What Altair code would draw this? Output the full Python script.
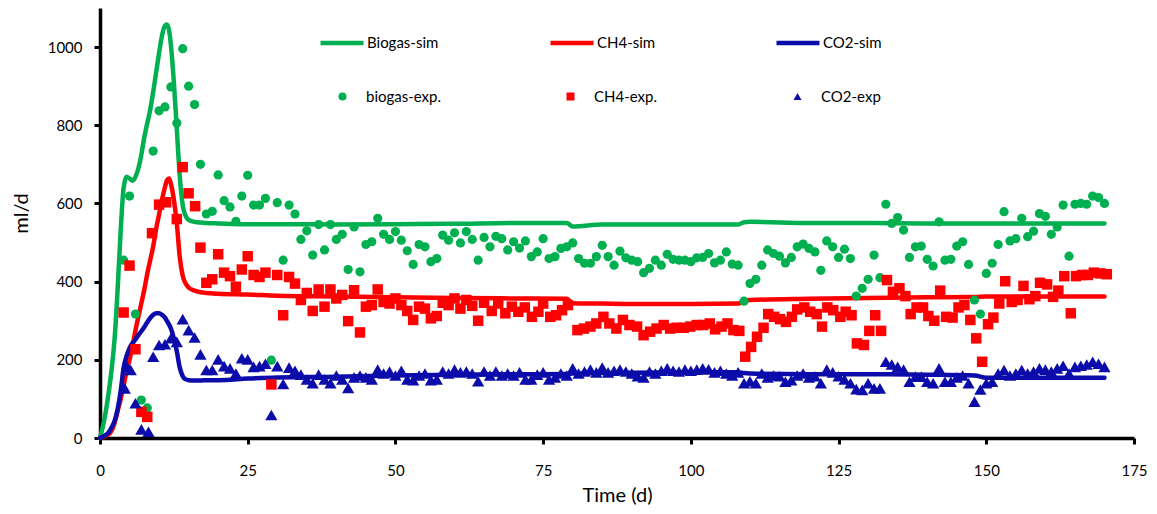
import altair as alt
import pandas as pd

# ---------------- data ----------------
sim_days = [0, 0.5, 1, 1.5, 2, 2.5, 3, 3.5, 4, 4.5,
            5, 5.5, 6, 6.5, 7, 7.5, 8, 8.5, 9, 9.5,
            10, 10.5, 11, 11.3, 11.7, 12, 12.5, 13, 13.5, 14,
            14.5, 15, 16, 17, 18, 20, 25, 30, 40, 50,
            60, 70, 79, 80, 85, 90, 100, 108, 109, 110,
            120, 130, 140, 148, 150, 160, 170]
biogas_sim = [0, 30, 70, 120, 180, 260, 385, 530, 640, 668,
              664, 658, 668, 690, 725, 770, 805, 840, 885, 935,
              985, 1030, 1055, 1058, 1042, 1005, 910, 790, 670, 595,
              568, 558, 553, 551, 550, 549, 547, 547, 546, 547,
              548, 550, 550, 541, 546, 546, 546, 546, 552, 553,
              550, 550, 549, 549, 549, 549, 549]
ch4_sim = [0, 2, 5, 10, 20, 40, 70, 100, 135, 170,
           200, 235, 275, 310, 345, 380, 420, 455, 490, 535,
           572, 610, 642, 658, 664, 650, 610, 549, 463, 415,
           395, 385, 377, 373, 371, 369, 367, 364, 362, 360,
           358, 357, 356, 345, 344, 343, 343, 344, 350, 353,
           356, 358, 360, 361, 362, 362, 362]
co2_sim = [0, 3, 8, 15, 28, 45, 75, 120, 180, 210,
           230, 243, 252, 263, 273, 284, 296, 307, 315, 319,
           319, 315, 308, 300, 290, 280, 255, 222, 180, 158,
           150, 148, 147, 147, 148, 148, 152, 155, 157, 160,
           162, 163, 164, 165, 166, 167, 168, 168, 166, 165,
           163, 163, 162, 160, 154, 154, 154]

biogas_exp_days = list(range(4, 171))
biogas_exp = [455, 619, 317, 97, 77, 734, 837, 847, 898, 806,
              996, 900, 853, 700, 573, 580, 673, 607, 591, 554,
              619, 672, 596, 596, 613, 199, 602, 455, 596, 573,
              508, 530, 468, 546, 481, 546, 508, 521, 431, 540,
              425, 495, 502, 562, 521, 508, 528, 506, 479, 444,
              495, 489, 451, 459, 519, 506, 525, 499, 528, 508,
              455, 513, 489, 516, 510, 481, 502, 486, 504, 464,
              476, 510, 459, 464, 485, 489, 499, 459, 447, 447,
              464, 493, 464, 442, 478, 461, 455, 451, 423, 434,
              455, 442, 470, 457, 455, 455, 451, 461, 462, 472,
              448, 455, 476, 445, 442, 350, 395, 406, 442, 481,
              472, 465, 448, 462, 489, 496, 485, 476, 429, 504,
              489, 462, 483, 459, 363, 383, 406, 468, 410, 598,
              549, 564, 532, 462, 489, 491, 457, 440, 553, 455,
              457, 491, 502, 444, 353, 317, 421, 447, 495, 579,
              504, 510, 562, 515, 529, 574, 567, 521, 540, 596,
              465, 598, 600, 598, 619, 615, 600]

ch4_exp_days = ([4, 5, 6, 7, 8, 8.8, 10, 11.2, 13, 14, 15, 16.1]
                + list(range(17, 66))
                + [66.3, 67.4, 68.6, 69.7, 70.8, 71.9, 73.1, 74.2, 75.0, 76.2,
                   77.2, 78.2, 79.2]
                + [80.8, 81.9, 83.0, 84.0, 85.2, 86.2, 87.4, 88.5, 89.6, 90.9,
                   92.0, 93.1, 94.2, 95.4, 96.5, 97.6, 98.8, 99.9, 101.0, 102.1,
                   103.2]
                + [104.1, 105.2, 106.2, 107.2, 108.2, 109.2, 110.2, 111.2, 112.3, 113.1,
                   114.1, 115.1, 116.1, 117.1, 118.0, 119.2, 120.2, 121.3, 122.2, 123.1,
                   124.1, 125.3, 126.2, 127.2, 128.1, 129.3, 130.2, 131.2, 132.2, 133.2,
                   134.2, 135.3, 136.3, 137.2, 138.2, 139.3, 140.2, 141.2, 142.2, 143.2,
                   144.3, 145.3, 146.3, 147.3, 148.3, 149.3, 150.3, 151.2, 152.2, 153.2,
                   154.3, 155.3, 156.3, 157.3, 158.3, 159.1, 160.3, 161.3, 162.2, 163.2,
                   164.3, 165.2, 166.2, 167.2, 168.2, 169.3, 170.4])
ch4_exp = ([321, 441, 227, 67, 54, 524, 597, 603, 560, 693, 626, 593]
           + [487, 397, 406, 470, 423, 414, 387, 431, 465, 417,
              412, 423, 137, 417, 314, 412, 395, 353, 371, 325,
              380, 336, 380, 357, 366, 299, 378, 270, 336, 340,
              380, 348, 344, 357, 340, 325, 302, 336, 331, 306,
              312, 346, 340, 357, 331, 353, 338, 300, 346]
           + [325, 344, 319, 336, 323, 334, 310, 323, 344, 310, 314, 327, 340]
           + [276, 280, 285, 293, 310, 293, 280, 302, 289, 285,
              263, 272, 280, 289, 280, 282, 282, 285, 289, 289, 293]
           + [278, 285, 293, 276, 274, 208, 233, 259, 282, 317,
              310, 304, 297, 310, 329, 334, 323, 317, 285, 334,
              327, 310, 323, 314, 242, 238, 274, 314, 274, 404,
              374, 383, 363, 317, 334, 334, 312, 300, 377, 310,
              308, 334, 340, 302, 255, 195, 291, 308, 344, 401,
              348, 353, 389, 355, 363, 397, 393, 361, 377, 414,
              319, 414, 417, 417, 423, 421, 419])

co2_exp_days = [4.2, 4.6, 5.2, 6, 7, 8.2] + list(range(9, 171))
co2_exp = ([127, 182, 174, 89, 22, 16]
           + [208, 238, 240, 255, 246, 304, 276, 257, 214, 174,
              174, 201, 184, 178, 165, 204, 201, 182, 184, 190,
              59, 184, 138, 180, 172, 162, 150, 140, 162, 150,
              140, 160, 150, 128, 155, 160, 155, 150, 175, 165,
              170, 160, 172, 150, 148, 160, 165, 148, 150, 170,
              165, 175, 168, 170, 165, 145, 170, 160, 170, 160,
              165, 160, 168, 150, 150, 162, 168, 150, 155, 165,
              160, 178, 165, 170, 175, 168, 180, 168, 172, 175,
              170, 165, 158, 155, 170, 165, 172, 178, 172, 170,
              175, 172, 175, 178, 176, 168, 172, 165, 160, 168,
              140, 145, 140, 165, 155, 160, 158, 144, 148, 160,
              165, 155, 158, 140, 175, 168, 158, 150, 140, 125,
              123, 140, 127, 127, 195, 188, 182, 175, 144, 157,
              157, 144, 140, 178, 144, 144, 155, 160, 140, 93,
              124, 140, 144, 165, 174, 160, 165, 174, 165, 170,
              178, 175, 170, 178, 185, 165, 182, 185, 188, 195,
              190, 182])

sim_names = ["Biogas-sim", "CH4-sim", "CO2-sim"]
exp_names = ["biogas-exp.", "CH4-exp.", "CO2-exp"]
colors = ["#00B050", "#FF0000", "#0C0CAA"]
shapes = ["circle", "square", "triangle-up"]
x_ticks = [0, 25, 50, 75, 100, 125, 150, 175]
y_ticks = [0, 200, 400, 600, 800, 1000]

# ---------------- tables ----------------
sim_rows = []
for name, vals in zip(sim_names, [biogas_sim, ch4_sim, co2_sim]):
    for t, v in zip(sim_days, vals):
        sim_rows.append({"series": name, "t": t, "v": v})
df_sim = pd.DataFrame(sim_rows)

exp_rows = []
for name, days, vals in zip(exp_names,
                            [biogas_exp_days, ch4_exp_days, co2_exp_days],
                            [biogas_exp, ch4_exp, co2_exp]):
    for t, v in zip(days, vals):
        exp_rows.append({"series": name, "t": t, "v": v})
df_exp = pd.DataFrame(exp_rows)

FONT = "Lato"

x_enc = alt.X("t:Q",
              scale=alt.Scale(domain=[0, 175], nice=False, zero=False),
              axis=alt.Axis(values=x_ticks, title="Time (d)", labelPadding=19,
                            titlePadding=7, labelFlush=False, format="d"))
y_enc = alt.Y("v:Q",
              scale=alt.Scale(domain=[0, 1100], nice=False),
              axis=alt.Axis(values=y_ticks, title="ml/d", labelPadding=12,
                            titleX=-69, titleY=205, labelFlush=False, format="d"))

# legend placement (relative to plot area): one legend per series
line_leg_x = [218, 448, 674]
point_leg_x = [235, 463, 690]

layers = []
for i, (name, col) in enumerate(zip(sim_names, colors)):
    leg = alt.Legend(title=None, orient="none", legendX=line_leg_x[i], legendY=11,
                     symbolType="stroke", symbolSize=1849, symbolStrokeWidth=4.5,
                     labelOffset=1, padding=0,
                     labelFont=FONT, labelFontSize=15, labelColor="black")
    layers.append(
        alt.Chart(df_sim).transform_filter(alt.datum.series == name)
        .mark_line(strokeWidth=4.5, interpolate="monotone",
                   strokeCap="round", strokeJoin="round")
        .encode(x=x_enc, y=y_enc,
                color=alt.Color("series:N",
                                scale=alt.Scale(domain=[name], range=[col]),
                                legend=leg))
    )

sizes = [85, 110, 150]
for i, (name, col, shp, sz) in enumerate(zip(exp_names, colors, shapes, sizes)):
    leg = alt.Legend(title=None, orient="none", legendX=point_leg_x[i], legendY=81,
                     symbolSize=64, symbolStrokeWidth=0, labelOffset=16, padding=0,
                     labelFont=FONT, labelFontSize=15, labelColor="black")
    layers.append(
        alt.Chart(df_exp).transform_filter(alt.datum.series == name)
        .mark_point(filled=True, size=sz, opacity=1, strokeWidth=0)
        .encode(x=x_enc, y=y_enc,
                fill=alt.Fill("series:N",
                              scale=alt.Scale(domain=[name], range=[col]),
                              legend=leg),
                shape=alt.Shape("series:N",
                                scale=alt.Scale(domain=[name], range=[shp]),
                                legend=leg))
    )

chart = alt.layer(*layers).resolve_scale(
    color="independent", fill="independent", shape="independent"
).properties(
    width=1034, height=430,
    autosize=alt.AutoSizeParams(type="none"),
    padding={"left": 92, "top": 0, "right": 15, "bottom": 70},
).configure_view(
    strokeWidth=0
).configure_axis(
    grid=False, domainColor="black", domainWidth=3.5, tickColor="black",
    tickWidth=3, tickSize=6, labelFont=FONT, labelFontSize=15, labelColor="black",
    titleFont=FONT, titleFontSize=20, titleFontWeight="normal", titleColor="black",
)

chart.save("out.html", embed_options={"renderer": "svg", "actions": False})
